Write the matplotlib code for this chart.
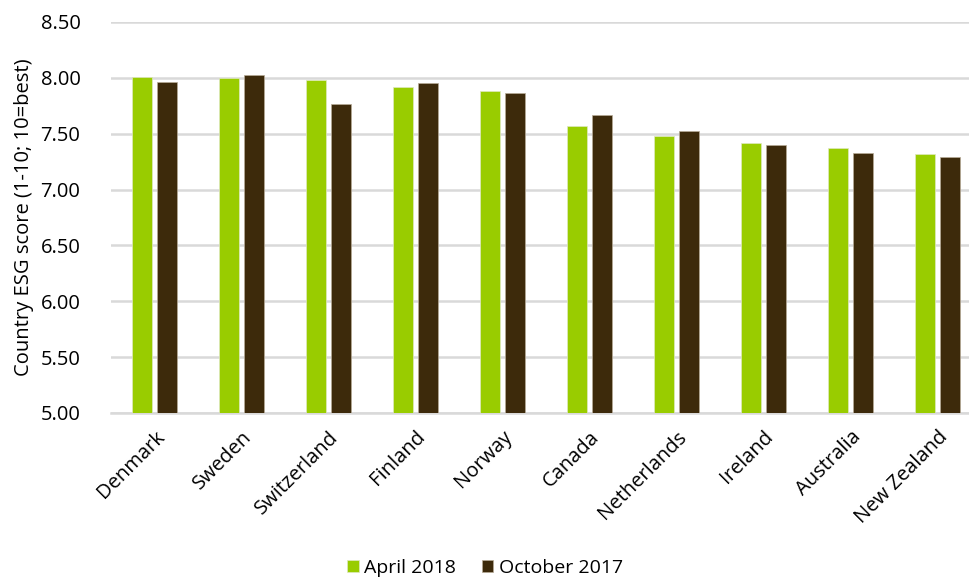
import numpy as np
import matplotlib.pyplot as plt

plt.rcParams['font.family'] = ['Open Sans', 'DejaVu Sans']

# data
countries = ['Denmark', 'Sweden', 'Switzerland', 'Finland', 'Norway',
             'Canada', 'Netherlands', 'Ireland', 'Australia', 'New Zealand']
april_2018 = [8.01, 8.00, 7.98, 7.92, 7.88, 7.57, 7.48, 7.42, 7.37, 7.32]
october_2017 = [7.96, 8.03, 7.77, 7.95, 7.86, 7.67, 7.52, 7.40, 7.33, 7.29]

green = '#99cc00'
brown = '#3d2a0b'

fig = plt.figure(figsize=(9.7, 5.81), dpi=100)
ax = fig.add_axes([111 / 970, 1 - 413 / 581, 870 / 970, 391 / 581])

x = np.arange(len(countries))
w = 0.23
off = 0.144
ax.bar(x - off, april_2018, w, color=green, edgecolor='#dfe8c0', linewidth=0.5,
       label='April 2018', zorder=3)
ax.bar(x + off, october_2017, w, color=brown, edgecolor='#b8ab98', linewidth=0.5,
       label='October 2017', zorder=3)

ax.set_xlim(-0.5, len(countries) - 0.5)
ax.set_ylim(5.0, 8.5)
ax.set_yticks(np.arange(5.0, 8.51, 0.5))
ax.set_yticklabels([f'{v:.2f}' for v in np.arange(5.0, 8.51, 0.5)], fontsize=14.5)
ax.set_xticks(x)
ax.set_xticklabels(countries, rotation=45, ha='right', rotation_mode='anchor',
                   fontsize=14.5)
ax.tick_params(axis='both', length=0, colors='black')
ax.tick_params(axis='x', pad=10)
ax.tick_params(axis='y', pad=22)

ax.grid(axis='y', color='#d9d9d9', linewidth=1.8, zorder=0)
for s in ['top', 'right', 'left']:
    ax.spines[s].set_visible(False)
ax.spines['bottom'].set_color('#d9d9d9')
ax.spines['bottom'].set_linewidth(1.8)

ax.set_ylabel('Country ESG score (1-10; 10=best)', fontsize=14.5, labelpad=5)

fig.legend(loc='center', bbox_to_anchor=(0.5, 1 - 568 / 581), ncol=2, frameon=False,
           fontsize=14, handlelength=0.6, handleheight=0.6, handletextpad=0.3,
           columnspacing=1.3)

fig.savefig('out.png', dpi=100)
